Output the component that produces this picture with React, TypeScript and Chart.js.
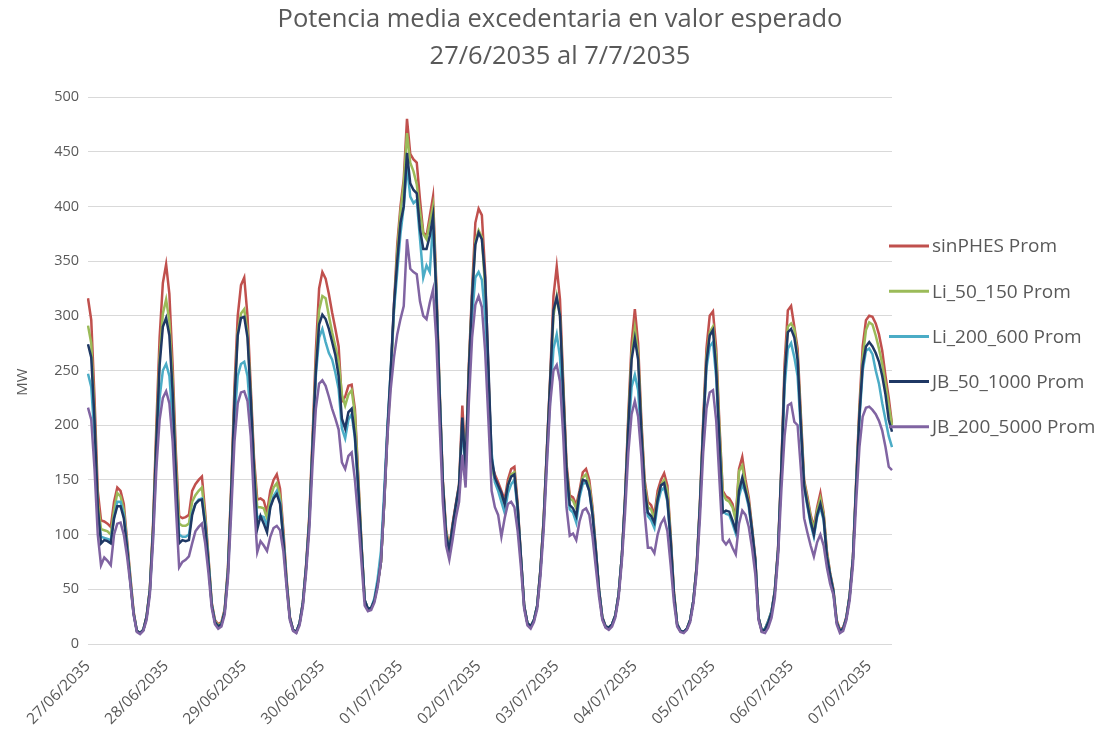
import React, { useEffect, useRef } from 'react';
import { Chart, registerables } from 'chart.js';

Chart.register(...registerables);

// Hourly series, one row per day (24 hourly values starting at each day's midday peak)
const dayLabels = [
  '27/06/2035', '28/06/2035', '29/06/2035', '30/06/2035', '01/07/2035', '02/07/2035',
  '03/07/2035', '04/07/2035', '05/07/2035', '06/07/2035', '07/07/2035',
];

const sinPHES = [
  316, 296, 225, 140, 113, 112, 110, 107, 130, 143, 140, 128, 95, 62, 30, 12, 10, 13, 25, 50, 110, 200, 280, 330,
  347, 320, 255, 175, 117, 115, 116, 118, 140, 146, 150, 153, 120, 80, 38, 22, 18, 20, 32, 70, 145, 235, 300, 328,
  335, 300, 235, 170, 132, 133, 131, 120, 140, 150, 155, 142, 105, 60, 25, 13, 11, 19, 38, 72, 118, 190, 268, 325,
  340, 334, 320, 303, 288, 272, 222, 226, 236, 237, 215, 155, 93, 40, 32, 33, 40, 55, 75, 130, 195, 245, 310, 365,
  400, 425, 480, 448, 443, 440, 406, 376, 373, 391, 409, 330, 235, 150, 105, 88, 110, 128, 146, 218, 165, 255, 325, 385,
  398, 392, 340, 250, 165, 155, 148, 140, 132, 150, 160, 162, 128, 80, 35, 19, 16, 22, 35, 68, 115, 180, 245, 318,
  345, 315, 240, 165, 136, 134, 127, 140, 157, 160, 150, 125, 88, 50, 25, 16, 15, 18, 26, 45, 80, 135, 210, 275,
  306, 275, 205, 150, 130, 127, 118, 140, 150, 156, 145, 100, 48, 18, 12, 11, 14, 22, 40, 72, 130, 205, 270, 300,
  304, 270, 200, 140, 135, 133, 128, 115, 160, 171, 150, 134, 107, 79, 24, 12, 14, 21, 30, 49, 88, 162, 256, 305,
  309, 290, 270, 210, 150, 135, 118, 107, 125, 138, 120, 85, 65, 50, 22, 13, 15, 25, 45, 80, 150, 218, 272, 296,
  300, 299, 293, 283, 268, 245, 225, 201,
];

const li50_150 = [
  291, 275, 210, 130, 105, 104, 103, 100, 122, 138, 135, 122, 92, 60, 29, 12, 10, 13, 25, 50, 108, 190, 262, 302,
  315, 295, 240, 165, 110, 108, 108, 110, 130, 136, 140, 143, 115, 78, 37, 21, 17, 19, 31, 68, 140, 225, 285, 302,
  306, 285, 228, 165, 125, 125, 124, 115, 133, 143, 147, 135, 100, 58, 24, 13, 11, 19, 37, 70, 115, 185, 255, 305,
  318, 316, 300, 285, 272, 258, 228, 218, 228, 232, 210, 152, 92, 40, 32, 33, 40, 55, 75, 128, 193, 243, 305, 358,
  395, 420, 467, 440, 432, 420, 395, 375, 370, 385, 400, 325, 232, 148, 103, 87, 108, 126, 144, 205, 160, 250, 318, 368,
  378, 372, 325, 245, 162, 150, 142, 135, 128, 145, 155, 157, 125, 78, 34, 19, 16, 22, 35, 68, 115, 178, 240, 300,
  318, 300, 235, 160, 133, 131, 124, 137, 152, 155, 145, 122, 86, 49, 24, 16, 15, 18, 26, 45, 80, 133, 205, 265,
  289, 265, 200, 147, 125, 123, 114, 135, 145, 150, 140, 97, 47, 18, 12, 11, 14, 22, 40, 71, 128, 200, 262, 285,
  290, 262, 195, 138, 132, 130, 125, 113, 158, 163, 145, 130, 105, 77, 24, 12, 14, 21, 30, 48, 86, 158, 245, 290,
  293, 288, 262, 205, 148, 132, 116, 105, 122, 133, 118, 83, 64, 49, 21, 12, 14, 24, 44, 78, 147, 212, 262, 287,
  294, 292, 282, 270, 256, 238, 218, 200,
];

const li200_600 = [
  247, 235, 190, 120, 98, 97, 96, 95, 115, 130, 130, 118, 90, 58, 28, 12, 10, 13, 24, 48, 100, 170, 225, 250,
  256, 245, 205, 145, 100, 98, 98, 100, 120, 128, 132, 133, 110, 75, 36, 20, 16, 18, 30, 65, 130, 205, 245, 256,
  258, 245, 205, 150, 115, 117, 116, 108, 125, 135, 140, 130, 97, 56, 24, 13, 11, 19, 37, 70, 112, 180, 245, 280,
  288, 276, 266, 260, 248, 233, 197, 188, 205, 210, 188, 140, 88, 40, 32, 33, 42, 60, 85, 140, 200, 250, 305, 340,
  375, 400, 437, 409, 403, 406, 370, 335, 346, 340, 385, 320, 230, 145, 100, 85, 105, 125, 143, 200, 155, 235, 300, 335,
  340, 333, 300, 240, 175, 148, 140, 130, 120, 138, 146, 150, 122, 78, 34, 19, 16, 22, 35, 66, 110, 170, 225, 270,
  283, 262, 210, 150, 123, 120, 111, 134, 146, 148, 140, 118, 85, 49, 24, 16, 15, 18, 26, 45, 80, 130, 190, 235,
  246, 232, 185, 135, 117, 113, 106, 128, 140, 143, 130, 93, 45, 18, 12, 11, 14, 22, 40, 70, 125, 195, 252, 272,
  276, 243, 180, 122, 119, 118, 110, 101, 135, 146, 138, 125, 103, 76, 24, 12, 14, 21, 30, 48, 85, 155, 235, 270,
  275, 262, 245, 195, 143, 126, 110, 98, 116, 125, 113, 80, 63, 48, 20, 12, 14, 24, 44, 78, 145, 205, 250, 268,
  270, 265, 250, 238, 220, 205, 190, 180,
];

const jb50_1000 = [
  274, 262, 205, 125, 92, 95, 94, 92, 115, 126, 126, 115, 88, 57, 28, 12, 10, 13, 25, 49, 105, 185, 255, 290,
  298, 282, 230, 155, 92, 95, 94, 95, 118, 128, 131, 132, 108, 74, 36, 20, 16, 18, 30, 66, 138, 222, 282, 298,
  299, 280, 225, 160, 105, 117, 110, 102, 125, 133, 137, 128, 96, 56, 24, 13, 11, 19, 37, 70, 113, 182, 250, 292,
  301, 297, 288, 276, 264, 245, 206, 197, 212, 215, 190, 145, 90, 40, 32, 33, 40, 55, 75, 130, 195, 250, 310, 350,
  385, 400, 449, 421, 415, 412, 379, 361, 361, 373, 391, 320, 230, 148, 100, 85, 108, 127, 145, 207, 160, 250, 318, 365,
  376, 370, 335, 255, 170, 152, 145, 138, 128, 145, 153, 155, 125, 80, 35, 19, 16, 22, 35, 68, 113, 178, 242, 305,
  317, 300, 230, 160, 127, 124, 117, 138, 150, 149, 140, 118, 86, 49, 24, 16, 15, 18, 26, 45, 80, 133, 200, 260,
  279, 260, 195, 142, 120, 117, 111, 132, 145, 147, 132, 95, 46, 18, 12, 11, 14, 22, 40, 71, 127, 198, 258, 282,
  287, 250, 185, 120, 122, 121, 113, 104, 140, 152, 140, 128, 104, 77, 24, 12, 13, 20, 29, 48, 86, 160, 245, 285,
  288, 280, 260, 200, 145, 128, 112, 100, 118, 128, 115, 80, 63, 48, 20, 12, 14, 24, 44, 78, 145, 210, 255, 272,
  276, 272, 266, 258, 245, 228, 205, 194,
];

const jb200_5000 = [
  216, 205, 160, 100, 72, 79, 76, 72, 100, 110, 111, 100, 80, 55, 27, 11, 9, 12, 22, 45, 95, 160, 205, 225,
  231, 220, 185, 125, 70, 75, 77, 80, 92, 103, 107, 110, 92, 65, 33, 18, 14, 16, 27, 60, 120, 185, 220, 230,
  231, 222, 190, 130, 84, 94, 90, 85, 98, 106, 108, 104, 85, 52, 22, 12, 10, 17, 34, 65, 105, 165, 215, 238,
  241, 236, 226, 215, 206, 196, 166, 160, 172, 175, 150, 115, 75, 35, 30, 31, 38, 52, 75, 128, 190, 233, 262, 283,
  297, 309, 370, 343, 340, 338, 313, 300, 297, 312, 324, 278, 203, 130, 90, 77, 95, 115, 130, 173, 143, 220, 280, 310,
  318, 308, 268, 205, 140, 125, 118, 98, 115, 128, 130, 125, 103, 70, 32, 17, 14, 20, 32, 62, 105, 165, 220, 250,
  255, 240, 190, 125, 99, 101, 95, 112, 122, 124, 118, 98, 70, 43, 22, 15, 13, 16, 24, 42, 75, 120, 175, 210,
  222, 208, 172, 120, 88, 88, 83, 100, 110, 115, 103, 72, 38, 16, 11, 10, 13, 20, 37, 66, 115, 175, 215, 230,
  232, 204, 149, 95, 91, 95, 88, 82, 110, 122, 118, 107, 88, 64, 22, 11, 10, 15, 24, 42, 80, 140, 190, 218,
  220, 203, 200, 160, 115, 102, 90, 80, 93, 100, 90, 70, 55, 45, 18, 10, 12, 22, 40, 72, 130, 180, 208, 216,
  217, 214, 210, 204, 195, 180, 162, 159,
];

const seriesNames = ['sinPHES Prom', 'Li_50_150 Prom', 'Li_200_600 Prom', 'JB_50_1000 Prom', 'JB_200_5000 Prom'];
const seriesColors = ['#C0504D', '#9BBB59', '#4BACC6', '#1F3864', '#8064A2'];
const seriesValues = [sinPHES, li50_150, li200_600, jb50_1000, jb200_5000];

const titleLines = ['Potencia media excedentaria en valor esperado', '27/6/2035 al 7/7/2035'];
const yAxisTitle = 'MW';
const hoursPerDay = 24;

// One category per hour; the date is shown once per day
const categories = sinPHES.map((_, i) => dayLabels[Math.floor(i / hoursPerDay)]);

const TEXT = '#595959';
const FONT = '"Open Sans", "Liberation Sans", sans-serif';

const decorations = {
  id: 'decorations',
  afterDraw(chart: Chart) {
    const ctx = chart.ctx;
    ctx.save();
    ctx.fillStyle = TEXT;
    ctx.textAlign = 'center';
    ctx.textBaseline = 'middle';
    ctx.font = `25.5px ${FONT}`;
    ctx.fillText(titleLines[0], 560, 20);
    ctx.fillText(titleLines[1], 560, 57);

    ctx.save();
    ctx.translate(23, 382);
    ctx.rotate(-Math.PI / 2);
    ctx.font = `15px ${FONT}`;
    ctx.fillText(yAxisTitle, 0, 0);
    ctx.restore();

    // legend on the right
    ctx.textAlign = 'left';
    ctx.font = `19px ${FONT}`;
    seriesNames.forEach((name, k) => {
      const y = 246 + k * 45.2;
      ctx.strokeStyle = seriesColors[k];
      ctx.lineWidth = 3;
      ctx.beginPath();
      ctx.moveTo(889, y);
      ctx.lineTo(929, y);
      ctx.stroke();
      ctx.fillStyle = TEXT;
      ctx.fillText(name, 932, y + 1);
    });
    ctx.restore();
  },
};

export default function App() {
  const canvasRef = useRef<HTMLCanvasElement | null>(null);

  useEffect(() => {
    if (!canvasRef.current) return;
    const chart = new Chart(canvasRef.current, {
      type: 'line',
      data: {
        labels: categories,
        datasets: seriesValues.map((values, k) => ({
          label: seriesNames[k],
          data: values,
          borderColor: seriesColors[k],
          backgroundColor: seriesColors[k],
          borderWidth: 2.5,
          pointRadius: 0,
          tension: 0,
          fill: false,
          order: seriesValues.length - k,
        })),
      },
      options: {
        responsive: true,
        maintainAspectRatio: false,
        animation: false,
        layout: { padding: { left: 0, right: 217, top: 97, bottom: 0 } },
        plugins: {
          legend: { display: false },
          title: { display: false },
          tooltip: { enabled: false },
        },
        scales: {
          x: {
            type: 'category',
            grid: { display: false },
            border: { display: false },
            ticks: {
              autoSkip: false,
              minRotation: 45,
              maxRotation: 45,
              padding: 5,
              color: TEXT,
              font: { family: FONT, size: 15.5 },
              callback: (_v: any, index: number) =>
                index % hoursPerDay === 0 ? categories[index] : null,
            },
            afterFit: (scale: any) => {
              scale.height = 107;
            },
          },
          y: {
            min: 0,
            max: 500,
            grid: { color: '#D9D9D9', lineWidth: 1, drawTicks: false },
            border: { display: false },
            ticks: {
              stepSize: 50,
              padding: 9,
              color: TEXT,
              font: { family: FONT, size: 14.5 },
            },
            afterFit: (scale: any) => {
              scale.width = 88;
            },
          },
        },
      },
      plugins: [decorations],
    });
    return () => chart.destroy();
  }, []);

  return (
    <div style={{ position: 'fixed', left: 0, top: 0, width: 1109, height: 751, background: '#fff' }}>
      <canvas ref={canvasRef} />
    </div>
  );
}
